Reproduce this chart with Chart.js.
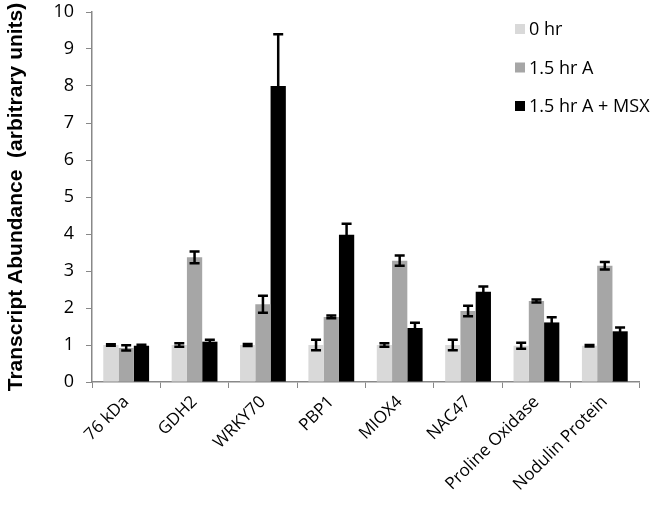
<!DOCTYPE html>
<html>
<head>
<meta charset="utf-8">
<script src="https://cdn.jsdelivr.net/npm/chart.js@4.4.1/dist/chart.umd.min.js"></script>
<style>
  html, body { margin: 0; padding: 0; background: #fff; }
  #wrap { width: 652px; height: 511px; }
</style>
</head>
<body>
<div id="wrap"><canvas id="chart" width="652" height="511"></canvas></div>
<script>
// categorias y valores
const genes = ['76 kDa', 'GDH2', 'WRKY70', 'PBP1', 'MIOX4', 'NAC47', 'Proline Oxidase', 'Nodulin Protein'];
const seriesNames = ['0 hr', '1.5 hr A', '1.5 hr A + MSX'];
const hr0 = [1.0, 1.0, 1.0, 1.0, 1.0, 1.0, 0.98, 0.98];
const hr15 = [0.92, 3.37, 2.1, 1.76, 3.28, 1.92, 2.19, 3.14];
const hr15msx = [0.98, 1.09, 8.0, 3.98, 1.46, 2.44, 1.61, 1.37];
const err0 = [0.02, 0.05, 0.03, 0.14, 0.05, 0.14, 0.08, 0.02];
const err15 = [0.07, 0.16, 0.23, 0.04, 0.14, 0.14, 0.04, 0.1];
const errMsx = [0.03, 0.05, 1.4, 0.3, 0.14, 0.14, 0.14, 0.1];
const yTicks = [0, 1, 2, 3, 4, 5, 6, 7, 8, 9, 10];

const colors = ['#d9d9d9', '#a6a6a6', '#000000'];

// barras de error dibujadas con las escalas de Chart.js
const errorBars = {
  id: 'errorBars',
  afterDatasetsDraw(chart) {
    const ctx = chart.ctx;
    const y = chart.scales.y;
    ctx.save();
    ctx.strokeStyle = '#000';
    ctx.lineWidth = 2.5;
    chart.data.datasets.forEach((ds, i) => {
      const meta = chart.getDatasetMeta(i);
      meta.data.forEach((bar, j) => {
        const v = ds.data[j];
        const e = ds.errors[j];
        const top = y.getPixelForValue(v + e);
        const bot = y.getPixelForValue(v - e);
        const x = bar.x;
        const w = 5;
        ctx.beginPath();
        ctx.moveTo(x, top); ctx.lineTo(x, bot);
        ctx.moveTo(x - w, top); ctx.lineTo(x + w, top);
        ctx.moveTo(x - w, bot); ctx.lineTo(x + w, bot);
        ctx.stroke();
      });
    });
    ctx.restore();
  }
};

// leyenda dentro del area, arriba a la derecha
const insideLegend = {
  id: 'insideLegend',
  afterDraw(chart) {
    const ctx = chart.ctx;
    ctx.save();
    ctx.font = '18px "Open Sans"';
    ctx.textBaseline = 'middle';
    chart.data.datasets.forEach((ds, i) => {
      const yy = 29 + i * 38.5;
      ctx.fillStyle = ds.backgroundColor;
      ctx.fillRect(515, yy - 5, 10, 10);
      ctx.fillStyle = '#000';
      ctx.fillText(ds.label, 529, yy + 1);
    });
    ctx.restore();
  }
};

const ctx = document.getElementById('chart').getContext('2d');
new Chart(ctx, {
  type: 'bar',
  data: {
    labels: genes,
    datasets: [
      { label: seriesNames[0], data: hr0, errors: err0, backgroundColor: colors[0] },
      { label: seriesNames[1], data: hr15, errors: err15, backgroundColor: colors[1] },
      { label: seriesNames[2], data: hr15msx, errors: errMsx, backgroundColor: colors[2] }
    ]
  },
  options: {
    responsive: false,
    animation: false,
    layout: { padding: { top: 0, right: 13, left: 4, bottom: 0 } },
    datasets: { bar: { categoryPercentage: 0.67, barPercentage: 1.0 } },
    plugins: {
      legend: { display: false },
      tooltip: { enabled: false }
    },
    scales: {
      x: {
        afterFit: (axis) => { axis.height = 129; },
        border: { color: '#888', width: 1.5 },
        grid: { drawOnChartArea: false, color: '#888', tickLength: 6, offset: true },
        ticks: { color: '#000', font: { family: 'Open Sans', size: 17 }, minRotation: 45, maxRotation: 45, padding: 4 }
      },
      y: {
        min: 0,
        max: 10,
        afterBuildTicks: (axis) => { axis.ticks = yTicks.map(v => ({ value: v })); },
        afterFit: (axis) => { axis.width = 88; axis.paddingTop = 12; },
        border: { color: '#888', width: 1.5 },
        grid: { drawOnChartArea: false, color: '#888', tickLength: 6 },
        ticks: { color: '#000', font: { family: 'Open Sans', size: 18 }, padding: 12 },
        title: {
          display: true,
          text: 'Transcript Abundance  (arbitrary units)',
          color: '#000',
          font: { family: 'Liberation Sans', size: 21, weight: 'bold' },
          padding: { top: 0, bottom: 2 }
        }
      }
    }
  },
  plugins: [errorBars, insideLegend]
});
</script>
</body>
</html>
